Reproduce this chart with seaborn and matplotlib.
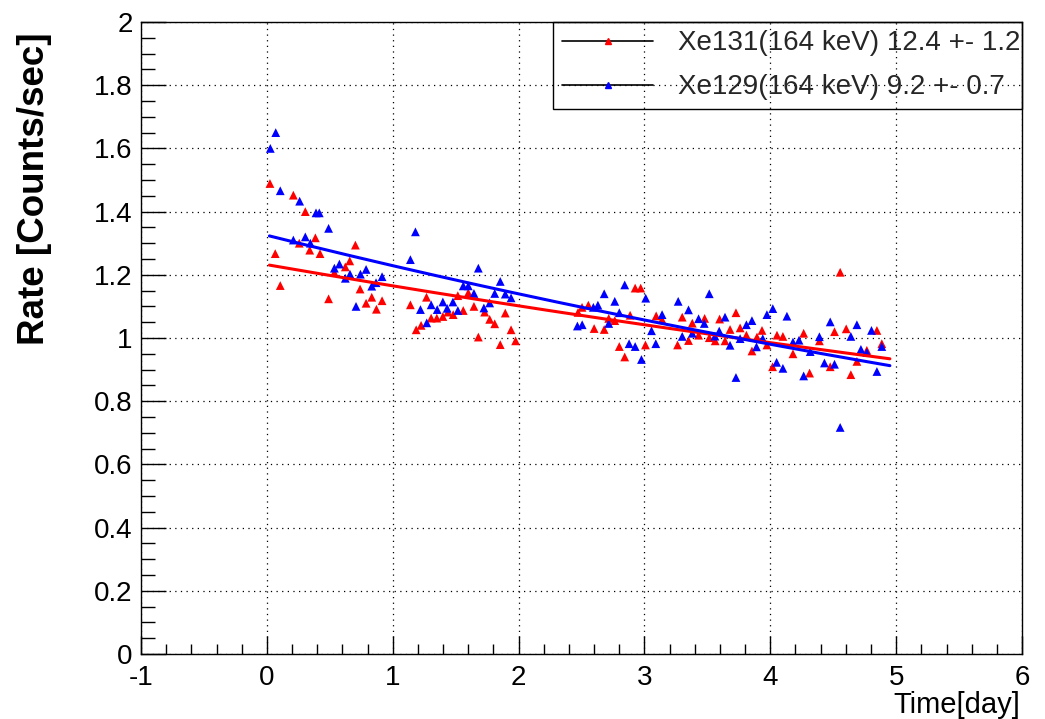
import numpy as np
import pandas as pd
import matplotlib
matplotlib.use("Agg")
import matplotlib.pyplot as plt
from matplotlib.ticker import MultipleLocator, FuncFormatter
from matplotlib.lines import Line2D
import seaborn as sns

# ---------------- data ----------------
xe129_t = [0.027, 0.070, 0.106, 0.21, 0.26, 0.305, 0.345, 0.39, 0.416, 0.49,
           0.536, 0.576, 0.623, 0.66, 0.708, 0.743, 0.788, 0.833, 0.867, 0.915,
           1.14, 1.18, 1.22, 1.27, 1.305, 1.353, 1.398, 1.432, 1.478, 1.517,
           1.56, 1.60, 1.645, 1.68, 1.724, 1.77, 1.81, 1.854, 1.894, 1.94,
           2.467, 2.505, 2.594, 2.63, 2.68, 2.716, 2.764, 2.80, 2.843, 2.878,
           2.926, 2.976, 3.01, 3.056, 3.09, 3.14, 3.268, 3.30, 3.35, 3.38,
           3.43, 3.475, 3.515, 3.56, 3.594, 3.64, 3.68, 3.727, 3.76, 3.81,
           3.854, 3.89, 3.94, 3.973, 4.02, 4.05, 4.10, 4.132, 4.18, 4.228,
           4.265, 4.317, 4.39, 4.43, 4.476, 4.51, 4.555, 4.64, 4.688, 4.72,
           4.767, 4.804, 4.847, 4.886]
xe129_rate = [1.600, 1.650, 1.466, 1.31, 1.433, 1.32, 1.30, 1.396, 1.396, 1.347,
              1.221, 1.234, 1.189, 1.202, 1.10, 1.202, 1.217, 1.164, 1.175, 1.194,
              1.248, 1.336, 1.09, 1.048, 1.105, 1.09, 1.114, 1.094, 1.114, 1.087,
              1.165, 1.165, 1.141, 1.221, 1.095, 1.111, 1.141, 1.179, 1.139, 1.127,
              1.038, 1.042, 1.097, 1.104, 1.14, 1.046, 1.116, 1.08, 1.168, 0.982,
              0.973, 0.932, 1.126, 1.023, 0.982, 1.074, 1.116, 1.005, 1.089, 1.015,
              1.061, 1.046, 1.14, 1.006, 1.022, 1.066, 0.977, 0.875, 0.998, 1.042,
              1.055, 0.972, 0.998, 1.074, 1.093, 0.923, 0.904, 1.069, 0.987, 0.993,
              0.88, 0.957, 1.004, 0.921, 1.051, 0.917, 0.717, 1.005, 1.042, 0.964,
              0.954, 1.024, 0.894, 0.973]

xe131_t = [0.024, 0.066, 0.106, 0.21, 0.257, 0.305, 0.34, 0.385, 0.422, 0.49,
           0.536, 0.623, 0.658, 0.703, 0.74, 0.788, 0.833, 0.87, 0.915, 1.14,
           1.186, 1.225, 1.268, 1.305, 1.35, 1.398, 1.438, 1.48, 1.517, 1.56,
           1.60, 1.645, 1.68, 1.73, 1.77, 1.81, 1.854, 1.894, 1.94, 1.976,
           2.472, 2.504, 2.554, 2.60, 2.68, 2.716, 2.764, 2.80, 2.843, 2.886,
           2.926, 2.97, 3.008, 3.093, 3.14, 3.263, 3.30, 3.35, 3.38, 3.43,
           3.478, 3.515, 3.562, 3.597, 3.64, 3.68, 3.727, 3.76, 3.81, 3.854,
           3.894, 3.934, 3.973, 4.018, 4.053, 4.10, 4.18, 4.265, 4.312, 4.39,
           4.476, 4.51, 4.555, 4.603, 4.64, 4.688, 4.767, 4.847, 4.886]
xe131_rate = [1.489, 1.267, 1.166, 1.452, 1.30, 1.40, 1.278, 1.317, 1.267, 1.124,
              1.207, 1.225, 1.244, 1.294, 1.155, 1.11, 1.129, 1.091, 1.118, 1.105,
              1.026, 1.04, 1.129, 1.063, 1.063, 1.068, 1.082, 1.074, 1.134, 1.087,
              1.143, 1.10, 1.003, 1.082, 1.059, 1.045, 0.979, 1.079, 1.026, 0.991,
              1.081, 1.097, 1.104, 1.03, 1.027, 1.062, 1.055, 0.973, 0.94, 1.072,
              1.158, 1.158, 0.978, 1.07, 1.058, 0.978, 1.066, 0.992, 1.047, 1.009,
              1.062, 1.001, 0.991, 1.06, 0.991, 1.027, 1.08, 1.032, 1.009, 0.959,
              1.003, 1.024, 0.978, 0.909, 1.009, 1.005, 0.95, 1.015, 0.889, 0.991,
              0.909, 1.02, 1.208, 1.029, 0.884, 0.926, 0.961, 1.024, 0.982]

# exponential-decay fit parameters (amplitude at t=0, half-life in days)
fit_amp = {"Xe131": 1.232, "Xe129": 1.325}
fit_halflife = {"Xe131": 12.4, "Xe129": 9.2}
fit_range = (0.02, 4.95)
legend_labels = {"Xe131": "Xe131(164 keV) 12.4 +- 1.2",
                 "Xe129": "Xe129(164 keV) 9.2 +- 0.7"}
colors = {"Xe131": "#ff0000", "Xe129": "#0000ff"}

x_label = "Time[day]"
y_label = "Rate [Counts/sec]"

# ---------------- style ----------------
sns.set_theme(style="white")
plt.rcParams["font.family"] = ["Liberation Sans", "DejaVu Sans"]
plt.rcParams["axes.unicode_minus"] = False

fig = plt.figure(figsize=(10.45, 7.19), dpi=100)
ax = fig.add_axes([0.135, 0.0904, 0.843, 0.879])

pts = pd.concat([
    pd.DataFrame({"t": xe131_t, "rate": xe131_rate, "iso": "Xe131"}),
    pd.DataFrame({"t": xe129_t, "rate": xe129_rate, "iso": "Xe129"}),
])

tfit = np.linspace(fit_range[0], fit_range[1], 200)
fits = pd.concat([
    pd.DataFrame({"t": tfit,
                  "rate": fit_amp[k] * np.exp(-np.log(2) * tfit / fit_halflife[k]),
                  "iso": k})
    for k in ["Xe131", "Xe129"]
])

sns.scatterplot(data=pts, x="t", y="rate", hue="iso", palette=colors,
                marker="^", s=40, linewidth=0, legend=False, ax=ax, zorder=3)
sns.lineplot(data=fits, x="t", y="rate", hue="iso", palette=colors,
             linewidth=2.2, legend=False, ax=ax, zorder=4)

ax.set_xlim(-1, 6)
ax.set_ylim(0, 2)
ax.xaxis.set_major_locator(MultipleLocator(1))
ax.xaxis.set_minor_locator(MultipleLocator(0.2))
ax.yaxis.set_major_locator(MultipleLocator(0.2))
ax.yaxis.set_minor_locator(MultipleLocator(0.05))
fmt = FuncFormatter(lambda v, p: f"{v:g}")
ax.xaxis.set_major_formatter(fmt)
ax.yaxis.set_major_formatter(fmt)

ax.grid(True, which="major", color="black", linestyle=(0, (1, 3.5)), linewidth=0.9)
for s in ax.spines.values():
    s.set_color("black")
    s.set_linewidth(1.0)
    s.set_visible(True)

ax.tick_params(axis="both", which="both", direction="in", color="black",
               width=1.0, top=False, right=False, left=True, bottom=True,
               labelsize=20, labelcolor="black")
ax.tick_params(axis="x", which="major", length=13, pad=8)
ax.tick_params(axis="x", which="minor", length=7)
ax.tick_params(axis="y", which="major", length=18, pad=6)
ax.tick_params(axis="y", which="minor", length=10)

ax.set_xlabel(x_label, fontsize=21, loc="right", color="black")
ax.xaxis.set_label_coords(0.998, -0.059)
ax.set_ylabel(y_label, fontsize=26.5, fontweight="bold", loc="top", color="black")
ax.yaxis.set_label_coords(-0.101, 0.983)

handles = [Line2D([], [], color="black", linewidth=1.2, marker="^", markersize=4.5,
                  markerfacecolor=colors[k], markeredgecolor=colors[k])
           for k in ["Xe131", "Xe129"]]
leg = ax.legend(handles, [legend_labels[k] for k in ["Xe131", "Xe129"]],
                loc="upper left", bbox_to_anchor=(0.468, 0.867, 0.532, 0.133),
                mode="expand", borderaxespad=0, fontsize=20, handlelength=3.3,
                handletextpad=0.9, borderpad=0.3, labelspacing=0.65,
                fancybox=False, frameon=True)
frame = leg.get_frame()
frame.set_alpha(None)
frame.set_facecolor("none")
frame.set_edgecolor("black")
frame.set_linewidth(1.0)

fig.savefig("out.png", dpi=100)
